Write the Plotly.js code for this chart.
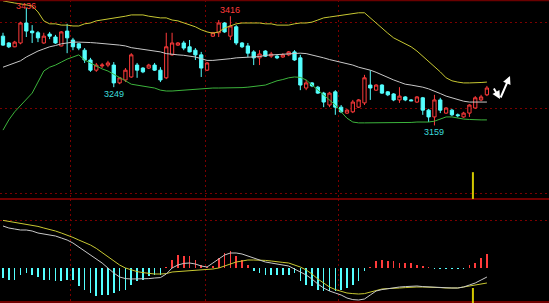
<!DOCTYPE html>
<html><head><meta charset="utf-8">
<script src="https://cdn.plot.ly/plotly-3.0.1.min.js"></script>
<style>html,body{margin:0;padding:0;background:#000;overflow:hidden}#chart{width:549px;height:303px}</style>
</head><body><div id="chart"></div>
<script>
// ---- price candles (84 sessions) ----
const openP = [3369,3353,3344,3353,3400,3381,3377,3353,3374,3367,
  3346,3381,3360,3351,3336,3313,3289,3299,3301,3301,
  3259,3266,3273,3301,3294,3294,3301,3289,3271,3325,
  3348,3353,3344,3336,3325,3289,3369,3377,3400,3369,
  3391,3353,3346,3332,3318,3334,3322,3322,3320,3325,
  3332,3318,3247,3259,3249,3235,3207,3238,3202,3188,
  3191,3202,3212,3254,3242,3254,3238,3233,3219,3226,
  3219,3214,3224,3195,3179,3219,3188,3195,3184,3179,
  3188,3200,3219,3231];
const highP = [3377,3355,3358,3403,3436,3395,3381,3377,3379,3372,
  3381,3398,3365,3353,3341,3318,3306,3306,3311,3308,
  3273,3294,3329,3306,3296,3304,3306,3296,3377,3377,
  3355,3358,3360,3341,3332,3308,3379,3407,3402,3416,
  3395,3355,3353,3336,3336,3336,3332,3325,3329,3334,
  3336,3325,3266,3261,3252,3238,3238,3242,3207,3198,
  3219,3221,3278,3289,3256,3256,3240,3235,3249,3228,
  3221,3228,3226,3198,3231,3224,3202,3198,3187,3191,
  3209,3228,3231,3252];
const lowP = [3346,3341,3343,3350,3367,3353,3355,3351,3362,3351,
  3345,3329,3336,3336,3306,3285,3285,3294,3296,3249,
  3256,3261,3271,3271,3282,3292,3287,3261,3268,3323,
  3346,3336,3331,3313,3273,3287,3367,3367,3377,3360,
  3348,3341,3320,3301,3301,3320,3318,3315,3318,3322,
  3311,3242,3242,3249,3233,3202,3202,3184,3188,3186,
  3188,3200,3207,3219,3240,3233,3228,3216,3212,3216,
  3216,3212,3184,3167,3159,3188,3186,3181,3178,3177,
  3179,3198,3216,3228];
const closeP = [3348,3344,3355,3400,3381,3377,3365,3369,3369,3353,
  3379,3365,3344,3341,3313,3289,3301,3301,3306,3259,
  3271,3289,3325,3289,3285,3301,3289,3266,3344,3353,
  3353,3341,3332,3325,3294,3306,3377,3400,3379,3393,
  3353,3344,3329,3318,3327,3322,3327,3318,3325,3332,
  3313,3254,3259,3252,3235,3214,3235,3202,3191,3195,
  3214,3219,3271,3247,3254,3235,3231,3219,3228,3219,
  3217,3226,3195,3179,3219,3195,3200,3184,3182,3188,
  3207,3224,3226,3247];
// ---- Bollinger bands ----
const upperB = [3452,3449,3447,3445,3442,3440,3426,3405,3398,3398,
  3395,3395,3393,3393,3398,3400,3405,3407,3409,3412,
  3414,3416,3419,3419,3419,3416,3414,3412,3412,3407,
  3405,3400,3395,3391,3384,3379,3376,3379,3388,3393,
  3398,3400,3400,3400,3400,3398,3398,3395,3395,3395,
  3398,3400,3400,3402,3407,3412,3414,3416,3419,3421,
  3422,3424,3424,3412,3398,3386,3376,3365,3358,3351,
  3344,3334,3322,3311,3299,3285,3271,3264,3261,3259,
  3259,3259,3260,3261];
const midB = [3296,3301,3306,3311,3320,3327,3334,3339,3344,3347,
  3351,3353,3355,3355,3355,3354,3353,3352,3351,3349,
  3348,3346,3342,3340,3338,3336,3335,3332,3328,3326,
  3325,3324,3322,3320,3316,3312,3312,3313,3315,3316,
  3318,3319,3319,3320,3321,3324,3325,3326,3327,3328,
  3329,3329,3328,3325,3321,3318,3314,3311,3308,3305,
  3301,3296,3293,3289,3284,3278,3271,3266,3261,3256,
  3254,3252,3249,3245,3240,3234,3228,3224,3219,3216,
  3214,3214,3214,3214];
const lowB = [3148,3172,3191,3205,3219,3235,3261,3287,3296,3301,
  3308,3315,3320,3325,3313,3306,3299,3292,3287,3280,
  3271,3264,3256,3254,3252,3249,3247,3242,3240,3240,
  3241,3242,3244,3245,3246,3247,3247,3247,3247,3247,
  3247,3248,3249,3251,3252,3254,3259,3264,3267,3271,
  3273,3272,3266,3254,3242,3231,3219,3207,3191,3176,
  3167,3165,3165,3165,3165,3165,3165,3165,3165,3165,
  3166,3167,3167,3167,3169,3174,3179,3179,3176,3174,
  3173,3172,3172,3172];
// ---- MACD ----
const dif = [21,20,19.5,19,19,18.5,17.5,17,16.5,16,
  15,14,12.5,10.5,8.5,6.5,4.5,2.5,0,-2.5,
  -4.5,-5.3,-5.5,-5.5,-5.5,-5.3,-5,-4.8,-3,0,
  1.5,2.3,2.5,2,1,0.5,2.5,4.5,6.5,7.5,
  7.5,7,6,5,4,3,2.5,2,1.5,1,
  -0.5,-2,-3.5,-5.5,-8,-10,-11.5,-12.5,-13.5,-15,
  -15.8,-16,-15.5,-13.5,-11.5,-10.8,-10.3,-9.8,-9.5,-9.3,
  -9,-9,-9.3,-9.5,-9.5,-9.8,-9.8,-10,-10,-9.5,
  -8.5,-7.5,-6,-4.5];
const dea = [23.8,23.3,22.8,22.3,22,21.5,20.8,20,19.3,18.5,
  17.5,16.5,15.3,14,12.8,11.5,9.8,7.8,5.8,3.5,
  1.5,0,-1,-1.8,-2.3,-2.8,-3,-3,-2.8,-2,
  -1.8,-1.5,-1.3,-1,-1,-0.8,-0.5,0,1,2,
  3,3.5,4,4,4,3.8,3.5,3,2.8,2.5,
  1.5,0.5,-1,-3,-5.5,-7.5,-9.5,-10.8,-11.5,-12.5,
  -12.8,-13,-12.8,-12,-11,-10.5,-10.3,-10,-10,-9.8,
  -9.5,-9.5,-9.5,-9.5,-9.5,-9.8,-10,-10,-10,-9.5,
  -9,-8.5,-8,-7.5];
const hist = [-5,-6,-6,-3.5,-2.5,-3.5,-4.3,-6,-6,-6.7,
  -6.7,-6,-6,-9.2,-10.8,-12.5,-14.2,-13.3,-13.3,-12.5,
  -11.7,-10.8,-8.3,-6.7,-5.8,-4.2,-3.3,-3.3,0.4,4,
  6.5,5.8,6,4,1.7,0.4,1,5,7.5,8.3,
  5.8,4.2,1.7,-1.7,-2.5,-3.3,-3.3,-3.3,-3.3,-3.3,
  -2.5,-6.7,-8.3,-9.2,-10.8,-11.7,-11.7,-11.7,-10.8,-10,
  -8.3,-6.7,-1.7,0.3,3.3,4.2,3.3,3.3,2.5,2.5,
  2.5,1.7,0.8,0.3,-0.3,-0.3,-0.3,-0.3,-0.3,-0.3,
  1.7,2.5,5,7];
// marked extremes
const markIdx = [4, 39, 19, 74];
const markVal = [3436, 3416, 3249, 3159];
const markUp = [true, true, false, false];

const idx = openP.map((_, i) => i);
const RED = '#ff3b3b', CYAN = '#54ffff', YEL = '#c8c832', GRN = '#3cb43c', WHT = '#c8c8c8';

const traces = [
  {type:'scatter', mode:'lines', x:idx, y:upperB, line:{color:YEL, width:1}, hoverinfo:'skip'},
  {type:'scatter', mode:'lines', x:idx, y:midB, line:{color:WHT, width:1}, hoverinfo:'skip'},
  {type:'scatter', mode:'lines', x:idx, y:lowB, line:{color:GRN, width:1}, hoverinfo:'skip'},
  {type:'candlestick', x:idx, open:openP, high:highP, low:lowP, close:closeP,
   increasing:{line:{color:RED, width:1}, fillcolor:'#000'},
   decreasing:{line:{color:CYAN, width:1}, fillcolor:CYAN},
   whiskerwidth:0, hoverinfo:'skip'},
  {type:'bar', x:idx, y:hist, yaxis:'y2', width:0.28,
   marker:{color:hist.map(v => v >= 0 ? RED : CYAN), line:{width:0}}, hoverinfo:'skip'},
  {type:'scatter', mode:'lines', x:idx, y:dea, yaxis:'y2', line:{color:YEL, width:1}, hoverinfo:'skip'},
  {type:'scatter', mode:'lines', x:idx, y:dif, yaxis:'y2', line:{color:WHT, width:1}, hoverinfo:'skip'}
];

const sep = 1 - 199/303;
const annotations = markIdx.map((xi, k) => ({
  x: xi, y: markVal[k], xref:'x', yref:'y', text: String(markVal[k]), showarrow:false,
  yanchor: markUp[k] ? 'bottom' : 'top', yshift: markUp[k] ? (k === 0 ? -5 : -1) : 0,
  font:{family:'Liberation Sans, Arial', size:9, color: markUp[k] ? RED : '#3cdcdc'}
}));
annotations.push(
  {xref:'paper', yref:'paper', x:500/549, y:1-99/303, ax:-7, ay:-12, text:'', showarrow:true,
   arrowcolor:'#fff', arrowwidth:2, arrowhead:2, arrowsize:0.8},
  {xref:'paper', yref:'paper', x:510/549, y:1-76/303, ax:-10, ay:23, text:'', showarrow:true,
   arrowcolor:'#fff', arrowwidth:2, arrowhead:2, arrowsize:0.8}
);

const layout = {
  width:549, height:303, margin:{l:0, r:0, t:0, b:0},
  paper_bgcolor:'#000', plot_bgcolor:'#000', showlegend:false, bargap:0, boxgap:0.2,
  xaxis:{range:[-0.515, 93.65], showticklabels:false, ticks:'', zeroline:false,
    rangeslider:{visible:false}, tickmode:'array', tickvals:[11.5, 34.65, 57.6],
    showgrid:true, gridcolor:'#7a0000', griddash:'2px,3px', gridwidth:1, showline:false},
  yaxis:{domain:[sep, 1], range:[2985.9, 3454.1], showticklabels:false, ticks:'',
    zeroline:false, tickmode:'array', tickvals:[3000, 3200, 3400],
    showgrid:true, gridcolor:'#7a0000', griddash:'2px,3px', gridwidth:1},
  yaxis2:{domain:[0, sep], range:[-17.5, 34.5], showticklabels:false, ticks:'',
    zeroline:false, tickmode:'array', tickvals:[24],
    showgrid:true, gridcolor:'#7a0000', griddash:'2px,3px', gridwidth:1},
  shapes:[
    {type:'line', xref:'paper', yref:'paper', x0:0, x1:1, y0:0.998, y1:0.998, line:{color:'#6a0000', width:1.5}},
    {type:'line', xref:'paper', yref:'paper', x0:0, x1:1, y0:sep, y1:sep, line:{color:'#960000', width:1.5}},
    {type:'line', xref:'paper', yref:'paper', x0:0, x1:1, y0:0.003, y1:0.003, line:{color:'#960000', width:1.5}},
    {type:'line', xref:'x', yref:'y', x0:80.6, x1:80.6, y0:2986, y1:3049, line:{color:'#d2c800', width:2}},
    {type:'line', xref:'x', yref:'y2', x0:80.6, x1:80.6, y0:-17.5, y1:-10, line:{color:'#d2c800', width:2}}
  ],
  annotations: annotations
};

Plotly.newPlot('chart', traces, layout, {staticPlot:true, displayModeBar:false});
</script></body></html>
